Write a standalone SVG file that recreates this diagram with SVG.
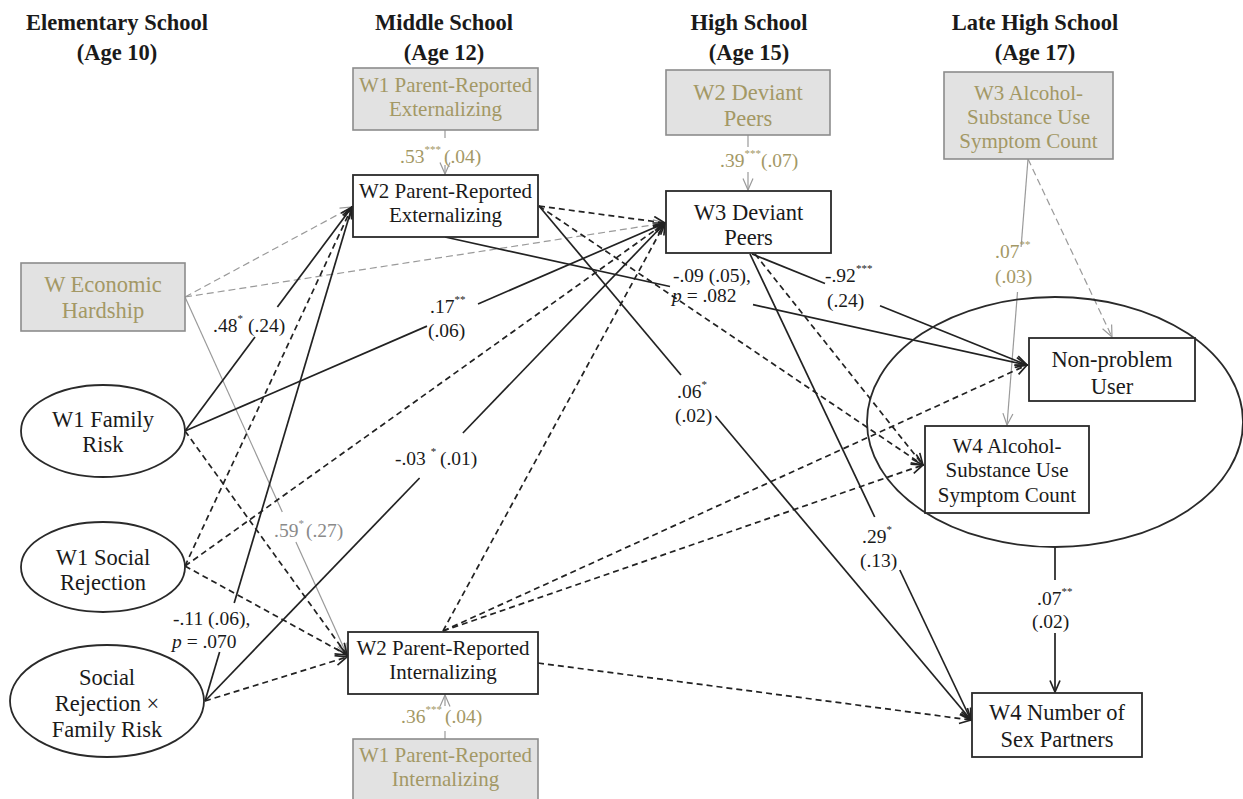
<svg xmlns="http://www.w3.org/2000/svg" width="1243" height="799" viewBox="0 0 1243 799">
<defs>
<style>
.hdr{font-family:"Liberation Serif","Times New Roman",serif;font-weight:bold;font-size:22.5px;text-anchor:middle;fill:#1a1a1a}
.nt{font-family:"Liberation Serif","Times New Roman",serif;font-size:22.5px;text-anchor:middle;fill:#1a1a1a}
.sm{font-size:21px}
.lbl{font-family:"Liberation Serif","Times New Roman",serif;font-size:19.5px;fill:#1a1a1a}
.ol{fill:#a39865}
.glbl{fill:#8a8a8a}
.box{fill:#fff;stroke:#2a2a2a;stroke-width:1.8}
.gbox{fill:#e2e2e2;stroke:#8c8c8c;stroke-width:1.6}
.ell{fill:#fff;stroke:#2a2a2a;stroke-width:1.8}
.st{font-size:11px}
.ln{stroke:#222;stroke-width:1.7;fill:none}
.dl{stroke:#222;stroke-width:1.7;fill:none;stroke-dasharray:6 4}
.gl{stroke:#9a9a9a;stroke-width:1.2;fill:none}
.gdl{stroke:#9a9a9a;stroke-width:1.2;fill:none;stroke-dasharray:7 4}
</style>
<marker id="ah" markerUnits="userSpaceOnUse" viewBox="0 0 14 12" markerWidth="14" markerHeight="12" refX="12.5" refY="6" orient="auto"><path d="M1,1 L12.5,6 L1,11" fill="none" stroke="#222" stroke-width="1.7"/></marker>
<marker id="gah" markerUnits="userSpaceOnUse" viewBox="0 0 14 12" markerWidth="14" markerHeight="12" refX="12.5" refY="6" orient="auto"><path d="M1,1 L12.5,6 L1,11" fill="none" stroke="#9a9a9a" stroke-width="1.2"/></marker>
</defs>
<rect width="1243" height="799" fill="#fff"/>

<g id="headers">
<text class="hdr" x="117" y="30">Elementary School</text>
<text class="hdr" x="117" y="60">(Age 10)</text>
<text class="hdr" x="444" y="30">Middle School</text>
<text class="hdr" x="444" y="60">(Age 12)</text>
<text class="hdr" x="749" y="30">High School</text>
<text class="hdr" x="749" y="60">(Age 15)</text>
<text class="hdr" x="1035" y="30">Late High School</text>
<text class="hdr" x="1035" y="60">(Age 17)</text>
</g>

<g id="connectors">
<path class="gdl" d="M185,297 L352,207" marker-end="url(#gah)"/>
<path class="gdl" d="M185,297 L665,223" marker-end="url(#gah)"/>
<path class="gl" d="M185,297 L282.3,512"/>
<path class="gl" d="M295.9,542 L347,655" marker-end="url(#gah)"/>
<path class="gl" d="M445,130 L445,138"/>
<path class="gl" d="M445,165 L445,174" marker-end="url(#gah)"/>
<path class="gl" d="M748,135 L748,147"/>
<path class="gl" d="M748,172 L748,190" marker-end="url(#gah)"/>
<path class="gl" d="M445,739 L445,731"/>
<path class="gl" d="M445,706 L445,695" marker-end="url(#gah)"/>
<path class="gl" d="M1028,159 L1021.1,247"/>
<path class="gl" d="M1017.5,292 L1007,425" marker-end="url(#gah)"/>
<path class="gdl" d="M1028,159 L1112,337" marker-end="url(#gah)"/>

<path class="ln" d="M185,431 L255,337"/>
<path class="ln" d="M277.4,307 L352,207" marker-end="url(#ah)"/>
<path class="ln" d="M185,431 L427,326.1"/>
<path class="ln" d="M478,304 L665,223" marker-end="url(#ah)"/>
<path class="dl" d="M185,431 L347,655" marker-end="url(#ah)"/>
<path class="dl" d="M185,566 L352,207" marker-end="url(#ah)"/>
<path class="dl" d="M185,566 L665,223" marker-end="url(#ah)"/>
<path class="dl" d="M185,566 L347,655" marker-end="url(#ah)"/>
<path class="ln" d="M205,701 L219.6,652"/>
<path class="ln" d="M234.2,603 L352,207" marker-end="url(#ah)"/>
<path class="ln" d="M205,701 L419.6,478"/>
<path class="ln" d="M462.9,433 L665,223" marker-end="url(#ah)"/>
<path class="dl" d="M205,701 L347,657" marker-end="url(#ah)"/>

<path class="dl" d="M539,206 L665,223" marker-end="url(#ah)"/>
<path class="dl" d="M539,206 L923,465" marker-end="url(#ah)"/>
<path class="ln" d="M539,206 L681,375"/>
<path class="ln" d="M715.5,416 L971,720" marker-end="url(#ah)"/>
<path class="ln" d="M445,237 L670,286.5"/>
<path class="ln" d="M753,304.7 L1027,365" marker-end="url(#ah)"/>

<path class="ln" d="M752,254 L825,283.5"/>
<path class="ln" d="M880,305.7 L1027,365" marker-end="url(#ah)"/>
<path class="dl" d="M755,254 L923,465" marker-end="url(#ah)"/>
<path class="ln" d="M750,254 L874.7,517"/>
<path class="ln" d="M899.8,570 L971,720" marker-end="url(#ah)"/>

<path class="dl" d="M443,631 L665,223" marker-end="url(#ah)"/>
<path class="dl" d="M443,631 L1027,365" marker-end="url(#ah)"/>
<path class="dl" d="M443,631 L923,465" marker-end="url(#ah)"/>
<path class="dl" d="M538,663 L971,720" marker-end="url(#ah)"/>

<path class="ln" d="M1055,547 L1055,580"/>
<path class="ln" d="M1055,633 L1055,692" marker-end="url(#ah)"/>
</g>

<g id="labels">
<text class="lbl ol" x="400" y="163">.53<tspan class="st" dy="-10">***</tspan><tspan x="444" dy="10">(.04)</tspan></text>
<text class="lbl ol" x="720" y="167">.39<tspan class="st" dy="-10">***</tspan><tspan x="761" dy="10">(.07)</tspan></text>
<text class="lbl ol" x="401" y="723">.36<tspan class="st" dy="-10">***</tspan><tspan x="445" dy="10">(.04)</tspan></text>
<text class="lbl ol" x="995" y="258">.07<tspan class="st" dy="-10">**</tspan></text>
<text class="lbl ol" x="995" y="283">(.03)</text>
<text class="lbl" x="1037" y="605">.07<tspan class="st" dy="-10">**</tspan></text>
<text class="lbl" x="1032" y="628">(.02)</text>
<text class="lbl" x="862" y="543">.29<tspan class="st" dy="-10">*</tspan></text>
<text class="lbl" x="860" y="567">(.13)</text>
<text class="lbl" x="677" y="398">.06<tspan class="st" dy="-10">*</tspan></text>
<text class="lbl" x="675" y="422">(.02)</text>
<text class="lbl" x="673" y="282">-.09 (.05),</text>
<text class="lbl" x="672" y="302"><tspan font-style="italic">p</tspan> = .082</text>
<text class="lbl" x="825" y="282">-.92<tspan class="st" dy="-10">***</tspan></text>
<text class="lbl" x="827" y="307">(.24)</text>
<text class="lbl" x="430" y="313">.17<tspan class="st" dy="-10">**</tspan></text>
<text class="lbl" x="428" y="337">(.06)</text>
<text class="lbl" x="395" y="465">-.03 <tspan class="st" dy="-10">*</tspan><tspan x="440" dy="10">(.01)</tspan></text>
<text class="lbl" x="213" y="332">.48<tspan class="st" dy="-10">*</tspan><tspan x="248" dy="10">(.24)</tspan></text>
<text class="lbl glbl" x="274" y="537">.59<tspan class="st" dy="-10">*</tspan><tspan x="306" dy="10">(.27)</tspan></text>
<text class="lbl" x="173" y="625">-.11 (.06),</text>
<text class="lbl" x="172" y="648"><tspan font-style="italic">p</tspan> = .070</text>
</g>

<g id="n-w1ext">
<rect class="gbox" x="353" y="68" width="185" height="62"/>
<text class="nt sm ol" x="445.5" y="92">W1 Parent-Reported</text>
<text class="nt sm ol" x="445.5" y="116">Externalizing</text>
</g>
<g id="n-w2ext">
<rect class="box" x="353" y="175" width="185" height="62"/>
<text class="nt sm" x="445.5" y="198">W2 Parent-Reported</text>
<text class="nt sm" x="445.5" y="222">Externalizing</text>
</g>
<g id="n-w2dp">
<rect class="gbox" x="666" y="70" width="164" height="65"/>
<text class="nt ol" x="748" y="100">W2 Deviant</text>
<text class="nt ol" x="748" y="126">Peers</text>
</g>
<g id="n-w3dp">
<rect class="box" x="666" y="191" width="165" height="62"/>
<text class="nt" x="748.5" y="220">W3 Deviant</text>
<text class="nt" x="748.5" y="245">Peers</text>
</g>
<g id="n-w3alc">
<rect class="gbox" x="944" y="72" width="169" height="87"/>
<text class="nt sm ol" x="1028.5" y="100">W3 Alcohol-</text>
<text class="nt sm ol" x="1028.5" y="124">Substance Use</text>
<text class="nt sm ol" x="1028.5" y="148">Symptom Count</text>
</g>
<g id="n-econ">
<rect class="gbox" x="21" y="263" width="164" height="68"/>
<text class="nt ol" x="103" y="292">W Economic</text>
<text class="nt ol" x="103" y="318">Hardship</text>
</g>
<g id="n-famrisk">
<ellipse class="ell" cx="103" cy="431" rx="82" ry="46"/>
<text class="nt" x="103" y="427">W1 Family</text>
<text class="nt" x="103" y="452">Risk</text>
</g>
<g id="n-socrej">
<ellipse class="ell" cx="103" cy="567" rx="82" ry="45"/>
<text class="nt" x="103" y="565">W1 Social</text>
<text class="nt" x="103" y="590">Rejection</text>
</g>
<g id="n-interaction">
<ellipse class="ell" cx="107" cy="701" rx="97" ry="56"/>
<text class="nt" x="107" y="685">Social</text>
<text class="nt" x="107" y="711">Rejection ×</text>
<text class="nt" x="107" y="737">Family Risk</text>
</g>
<g id="n-w2int">
<rect class="box" x="348" y="632" width="190" height="62"/>
<text class="nt sm" x="443" y="655">W2 Parent-Reported</text>
<text class="nt sm" x="443" y="679">Internalizing</text>
</g>
<g id="n-w1int">
<rect class="gbox" x="353" y="739" width="185" height="70"/>
<text class="nt sm ol" x="445.5" y="762">W1 Parent-Reported</text>
<text class="nt sm ol" x="445.5" y="786">Internalizing</text>
</g>
<g id="n-latent">
<ellipse cx="1055" cy="422" rx="188" ry="125" fill="none" stroke="#2a2a2a" stroke-width="1.8"/>
</g>
<g id="n-nonproblem">
<rect class="box" x="1029" y="338" width="166" height="63"/>
<text class="nt" x="1112" y="367">Non-problem</text>
<text class="nt" x="1112" y="394">User</text>
</g>
<g id="n-w4alc">
<rect class="box" x="925" y="426" width="164" height="87"/>
<text class="nt sm" x="1007" y="453">W4 Alcohol-</text>
<text class="nt sm" x="1007" y="477">Substance Use</text>
<text class="nt sm" x="1007" y="502">Symptom Count</text>
</g>
<g id="n-sexpartners">
<rect class="box" x="972" y="693" width="170" height="64"/>
<text class="nt" x="1057" y="720">W4 Number of</text>
<text class="nt" x="1057" y="747">Sex Partners</text>
</g>
</svg>
